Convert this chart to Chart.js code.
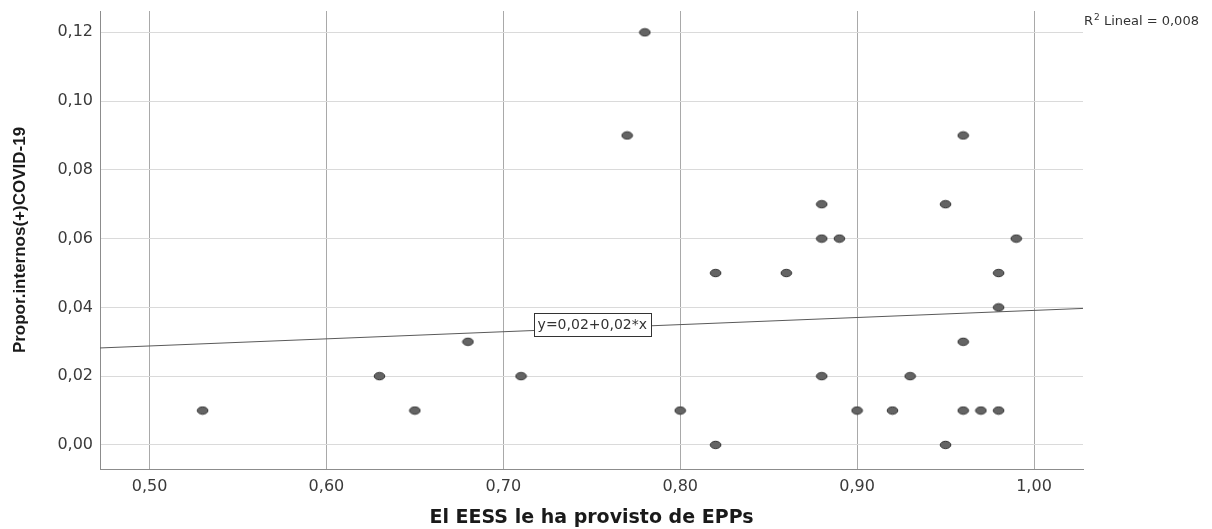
<!DOCTYPE html>
<html>
<head>
<meta charset="utf-8">
<script src="https://cdn.jsdelivr.net/npm/chart.js@4.4.0/dist/chart.umd.min.js"></script>
<style>
  html, body { margin: 0; padding: 0; background: #fff; }
  #wrap { width: 1212px; height: 529px; }
</style>
</head>
<body>
<div id="wrap"><canvas id="scatterChart" width="1212" height="529"></canvas></div>
<script>
// EPP provision vs. proportion of COVID-19 positive inmates
const eppValues   = [0.53, 0.63, 0.65, 0.68, 0.71, 0.77, 0.78, 0.80, 0.82, 0.82, 0.86, 0.88, 0.88, 0.89, 0.88, 0.90, 0.92, 0.93, 0.95, 0.95, 0.96, 0.96, 0.96, 0.97, 0.98, 0.98, 0.98, 0.99];
const covidValues = [0.01, 0.02, 0.01, 0.03, 0.02, 0.09, 0.12, 0.01, 0.05, 0.00, 0.05, 0.07, 0.06, 0.06, 0.02, 0.01, 0.01, 0.02, 0.07, 0.00, 0.09, 0.03, 0.01, 0.01, 0.05, 0.04, 0.01, 0.06];

// fitted line end points
const fitX = [0.472, 1.0277];
const fitY = [0.0282, 0.0397];

const xTicks = [0.50, 0.60, 0.70, 0.80, 0.90, 1.00];
const yTicks = [0.00, 0.02, 0.04, 0.06, 0.08, 0.10, 0.12];

const fitLabel = 'y=0,02+0,02*x';
const fitLabelAt = [0.7503, 0.0350];
const r2Text = '0,008';

function fmt(v) {
    return v.toFixed(2).replace('.', ',');
}

// ellipse marker like SPSS output
function makeMarker() {
    const c = document.createElement('canvas');
    c.width = 13;
    c.height = 10;
    const g = c.getContext('2d');
    g.beginPath();
    g.ellipse(6.5, 5, 5.3, 3.7, 0, 0, Math.PI * 2);
    g.fillStyle = '#646464';
    g.fill();
    g.lineWidth = 1;
    g.strokeStyle = '#2f2f2f';
    g.stroke();
    return c;
}

const annotations = {
    id: 'annotations',
    afterDatasetsDraw(chart) {
        const ctx = chart.ctx;
        const px = chart.scales.x.getPixelForValue(fitLabelAt[0]);
        const py = chart.scales.y.getPixelForValue(fitLabelAt[1]);
        ctx.save();
        ctx.font = '14px "DejaVu Sans"';
        const w = Math.round(ctx.measureText(fitLabel).width + 8);
        const h = 23;
        const bx = Math.round(px - w / 2) + 0.5;
        const by = Math.round(py - h / 2) + 0.5;
        ctx.fillStyle = '#fff';
        ctx.fillRect(bx, by, w, h);
        ctx.strokeStyle = '#333';
        ctx.lineWidth = 1;
        ctx.strokeRect(bx, by, w, h);
        ctx.fillStyle = '#333';
        ctx.textAlign = 'center';
        ctx.textBaseline = 'middle';
        ctx.fillText(fitLabel, px, py + 1);
        ctx.restore();
    },
    afterDraw(chart) {
        const ctx = chart.ctx;
        const x0 = chart.chartArea.right + 1;
        const y0 = 25;
        ctx.save();
        ctx.fillStyle = '#333';
        ctx.textBaseline = 'alphabetic';
        ctx.textAlign = 'left';
        ctx.font = '13px "DejaVu Sans"';
        ctx.fillText('R', x0, y0);
        let x = x0 + ctx.measureText('R').width;
        ctx.font = '9px "DejaVu Sans"';
        ctx.fillText('2', x + 1, y0 - 5);
        x += ctx.measureText('2').width + 1;
        ctx.font = '13px "DejaVu Sans"';
        ctx.fillText(' Lineal = ' + r2Text, x, y0);
        ctx.restore();
    }
};

const points = eppValues.map((v, i) => ({ x: v, y: covidValues[i] }));
const fitPoints = fitX.map((v, i) => ({ x: v, y: fitY[i] }));

new Chart(document.getElementById('scatterChart').getContext('2d'), {
    type: 'scatter',
    data: {
        datasets: [{
            label: 'Observado',
            data: points,
            pointStyle: makeMarker(),
            pointRadius: 5,
            order: 0
        }, {
            type: 'line',
            label: 'Lineal',
            data: fitPoints,
            borderColor: '#5a5a5a',
            borderWidth: 1,
            pointRadius: 0,
            fill: false,
            tension: 0,
            order: 1
        }]
    },
    plugins: [annotations],
    options: {
        responsive: false,
        animation: false,
        events: [],
        layout: {
            padding: { left: 0, right: 129, top: 11, bottom: 0 }
        },
        plugins: {
            legend: { display: false },
            tooltip: { enabled: false }
        },
        scales: {
            x: {
                type: 'linear',
                min: 0.472,
                max: 1.0277,
                afterBuildTicks: scale => {
                    scale.ticks = xTicks.map(v => ({ value: v }));
                },
                afterFit: scale => {
                    scale.height = 60;
                    scale.paddingLeft = 0;
                    scale.paddingRight = 0;
                },
                grid: {
                    color: '#a9a9a9',
                    drawTicks: false
                },
                border: { color: '#8c8c8c', width: 1 },
                ticks: {
                    padding: 8,
                    color: '#3a3a3a',
                    font: { family: '"DejaVu Sans"', size: 16 },
                    callback: v => fmt(v)
                },
                title: {
                    display: true,
                    text: 'El EESS le ha provisto de EPPs',
                    color: '#1a1a1a',
                    padding: { top: 0, bottom: 0 },
                    font: { family: '"DejaVu Sans"', size: 19, weight: 'bold' }
                }
            },
            y: {
                type: 'linear',
                min: -0.007,
                max: 0.1262,
                afterBuildTicks: scale => {
                    scale.ticks = yTicks.map(v => ({ value: v }));
                },
                afterFit: scale => {
                    scale.width = 100;
                    scale.paddingTop = 0;
                    scale.paddingBottom = 0;
                },
                grid: {
                    color: '#dadada',
                    drawTicks: false
                },
                border: { color: '#8c8c8c', width: 1 },
                ticks: {
                    padding: 7,
                    color: '#3a3a3a',
                    font: { family: '"DejaVu Sans"', size: 16 },
                    callback: v => fmt(v)
                },
                title: {
                    display: true,
                    text: 'Propor.internos(+)COVID-19',
                    color: '#1a1a1a',
                    padding: { top: 10, bottom: 0 },
                    font: { family: '"Liberation Sans"', size: 17, weight: 'bold' }
                }
            }
        }
    }
});
</script>
</body>
</html>
